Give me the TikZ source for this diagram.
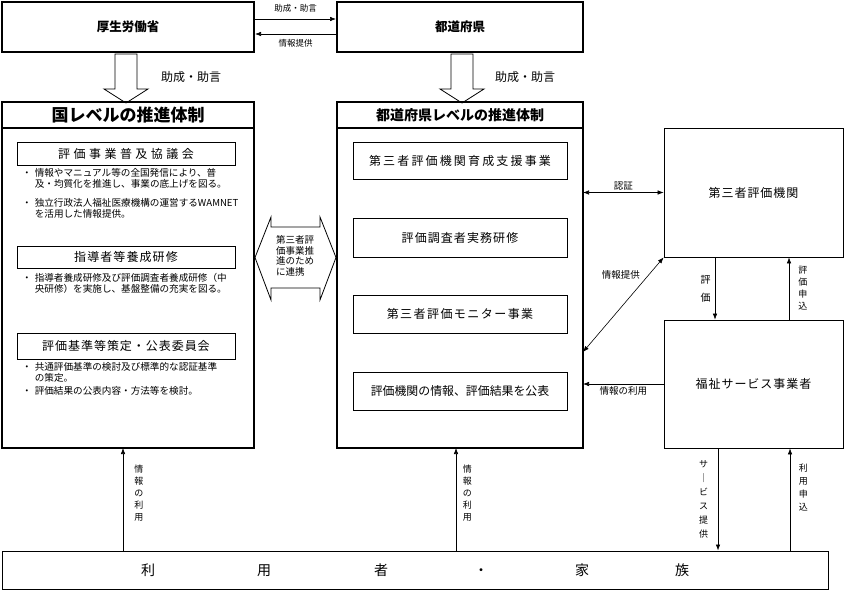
\documentclass[tikz,border=0pt]{standalone}
\usepackage{fontspec}
\setmainfont{Noto Sans CJK JP}
\usetikzlibrary{arrows.meta}
\newcommand{\bul}{・\hspace{3pt}}
\newcommand{\bulind}{\hspace*{12.6pt}}

\begin{document}
\begin{tikzpicture}[x=1pt, y=-1pt, >={Latex[length=6pt,width=4.5pt]},
  org/.style={draw, line width=2pt, font=\bfseries\fontsize{12.5}{15}\selectfont},
  panel/.style={draw, line width=2pt, outer sep=0pt},
  item/.style={draw, line width=0.8pt, font=\fontsize{12}{14}\selectfont\addfontfeature{LetterSpace=8}},
  actor/.style={draw, line width=0.8pt, font=\fontsize{12}{14}\selectfont\addfontfeature{LetterSpace=8}},
  note/.style={anchor=west, align=left, inner sep=0pt, font=\fontsize{9.6}{11}\selectfont},
  lbl/.style={inner sep=1pt, font=\fontsize{9.5}{11}\selectfont},
  vlbl/.style={inner sep=0pt, align=center, font=\fontsize{9}{12}\selectfont},
  conn/.style={line width=0.6pt},
  blk/.style={draw, line width=0.8pt}]
\useasboundingbox (0,0) rectangle (845,591);
\node[org, minimum width=252pt, minimum height=50pt] (mhlw) at (128,27) {厚生労働省};
\node[org, minimum width=246pt, minimum height=50pt] (pref) at (460,27) {都道府県};
\draw[conn, ->] ([yshift=8pt]mhlw.east) -- node[lbl, above=5pt, font=\fontsize{8.5}{10}\selectfont] (l1) {助成・助言} ([yshift=8pt]pref.west);
\draw[conn, ->] ([yshift=-7pt]pref.west) -- node[lbl, below=4pt, font=\fontsize{8.5}{10}\selectfont] (l2) {情報提供} ([yshift=-7pt]mhlw.east);
\draw[blk] (115,54) -- (115,89) -- (104,89) -- (126,103) -- (148,89) -- (137,89) -- (137,54) -- cycle;
\draw[blk] (451,54) -- (451,89) -- (440,89) -- (462,103) -- (484,89) -- (473,89) -- (473,54) -- cycle;
\node[lbl, font=\fontsize{12}{14}\selectfont] (l3) at (191,77) {助成・助言};
\node[lbl, font=\fontsize{12}{14}\selectfont] (l4) at (525,77) {助成・助言};
\node[panel, minimum width=252pt, minimum height=346pt] (natl) at (128,275) {};
\node[panel, minimum width=246pt, minimum height=346pt] (prefl) at (460,275) {};
\draw[line width=2pt] ([yshift=-26pt]natl.north west) -- ([yshift=-26pt]natl.north east);
\draw[line width=2pt] ([yshift=-26pt]prefl.north west) -- ([yshift=-26pt]prefl.north east);
\node[font=\bfseries\fontsize{17}{20}\selectfont] (natlt) at (128,115) {国レベルの推進体制};
\node[font=\bfseries\fontsize{14}{17}\selectfont] (preflt) at (460,115) {都道府県レベルの推進体制};
\node[item, minimum width=218pt, minimum height=23pt, font=\fontsize{12}{14}\selectfont\addfontfeature{LetterSpace=29}] (council) at (126,153.5) {評価事業普及協議会};
\node[item, minimum width=218pt, minimum height=22pt, font=\fontsize{12}{14}\selectfont\addfontfeature{LetterSpace=9}] (leader) at (126,257) {指導者等養成研修};
\node[item, minimum width=218pt, minimum height=26pt] (standard) at (126,346) {評価基準等策定・公表委員会};
\node[note] (n1) at (22,178.5) {\bul 情報やマニュアル等の全国発信により、普\\\bulind 及・均質化を推進し、事業の底上げを図る。};
\node[note] (n2) at (22,208) {\bul 独立行政法人福祉医療機構の運営するWAMNET\\\bulind を活用した情報提供。};
\node[note] (n3) at (22,283) {\bul 指導者養成研修及び評価調査者養成研修（中\\\bulind 央研修）を実施し、基盤整備の充実を図る。};
\node[note] (n4) at (22,372.5) {\bul 共通評価基準の検討及び標準的な認証基準\\\bulind の策定。};
\node[note] (n5) at (22,391) {\bul 評価結果の公表内容・方法等を検討。};
\node[item, minimum width=214pt, minimum height=37pt, font=\fontsize{12}{14}\selectfont\addfontfeature{LetterSpace=18}] (m1) at (460,160.5) {第三者評価機関育成支援事業};
\node[item, minimum width=214pt, minimum height=39pt, font=\fontsize{12}{14}\selectfont\addfontfeature{LetterSpace=9}] (m2) at (460,237.5) {評価調査者実務研修};
\node[item, minimum width=214pt, minimum height=38pt, font=\fontsize{12}{14}\selectfont\addfontfeature{LetterSpace=12}] (m3) at (460,314) {第三者評価モニター事業};
\node[item, minimum width=214pt, minimum height=38pt, font=\fontsize{11.9}{14}\selectfont] (m4) at (460,391) {評価機関の情報、評価結果を公表};
\draw[blk] (255,257.5) -- (271,217) -- (271,227) -- (320,227) -- (320,217) -- (336,257.5) -- (320,300) -- (320,288) -- (271,288) -- (271,300) -- cycle;
\node[align=left, inner sep=0pt, font=\fontsize{9.5}{10.7}\selectfont] (link) at (295,256) {第三者評\\価事業推\\進のため\\に連携};
\node[actor, minimum width=179pt, minimum height=129pt] (agency) at (753.5,192.5) {第三者評価機関};
\node[actor, minimum width=179pt, minimum height=128pt] (provider) at (753.5,384) {福祉サービス事業者};
\node[draw, line width=1pt, minimum width=826pt, minimum height=38pt, font=\fontsize{14}{16}\selectfont] (users) at (415,570) {利\hspace{102pt}用\hspace{103pt}者\hspace{86pt}・\hspace{87pt}家\hspace{86pt}族};
\draw[conn, <->] (agency.west -| prefl.east) -- node[lbl, above=1pt] (l5) {認証} (agency.west);
\draw[conn, <->] ([yshift=-77pt]prefl.east) -- node[lbl, pos=0.81, left=7pt] (l6) {情報提供} (agency.south west);
\draw[conn, ->] (provider.west) -- node[lbl, below=1pt] (l7) {情報の利用} (provider.west -| prefl.east);
\draw[conn, ->] ([xshift=-38.5pt]agency.south) -- node[vlbl, left=4pt, font=\fontsize{10}{18}\selectfont] (l8) {評\\価} ([xshift=-38.5pt]provider.north);
\draw[conn, ->] ([xshift=35.5pt]provider.north) -- node[vlbl, right=9pt] (l9) {評\\価\\申\\込} ([xshift=35.5pt]agency.south);
\coordinate (c1) at ([xshift=-5pt]natl.south);
\coordinate (c2) at ([xshift=-4pt]prefl.south);
\coordinate (c3) at ([xshift=-35.5pt]provider.south);
\coordinate (c4) at ([xshift=36.5pt]provider.south);
\draw[conn, ->] (c1 |- users.north) -- node[vlbl, pos=0.56, right=11pt] (l10) {情\\報\\の\\利\\用} (c1);
\draw[conn, ->] (c2 |- users.north) -- node[vlbl, pos=0.56, right=6.5pt] (l11) {情\\報\\の\\利\\用} (c2);
\draw[conn, ->] (c3) -- node[vlbl, left=9.5pt, font=\fontsize{9}{14}\selectfont] (l12) {サ\\｜\\ビ\\ス\\提\\供} (c3 |- users.north);
\draw[conn, ->] (c4 |- users.north) -- node[vlbl, pos=0.62, right=8.5pt, font=\fontsize{9}{13}\selectfont] (l13) {利\\用\\申\\込} (c4);
\end{tikzpicture}
\end{document}
